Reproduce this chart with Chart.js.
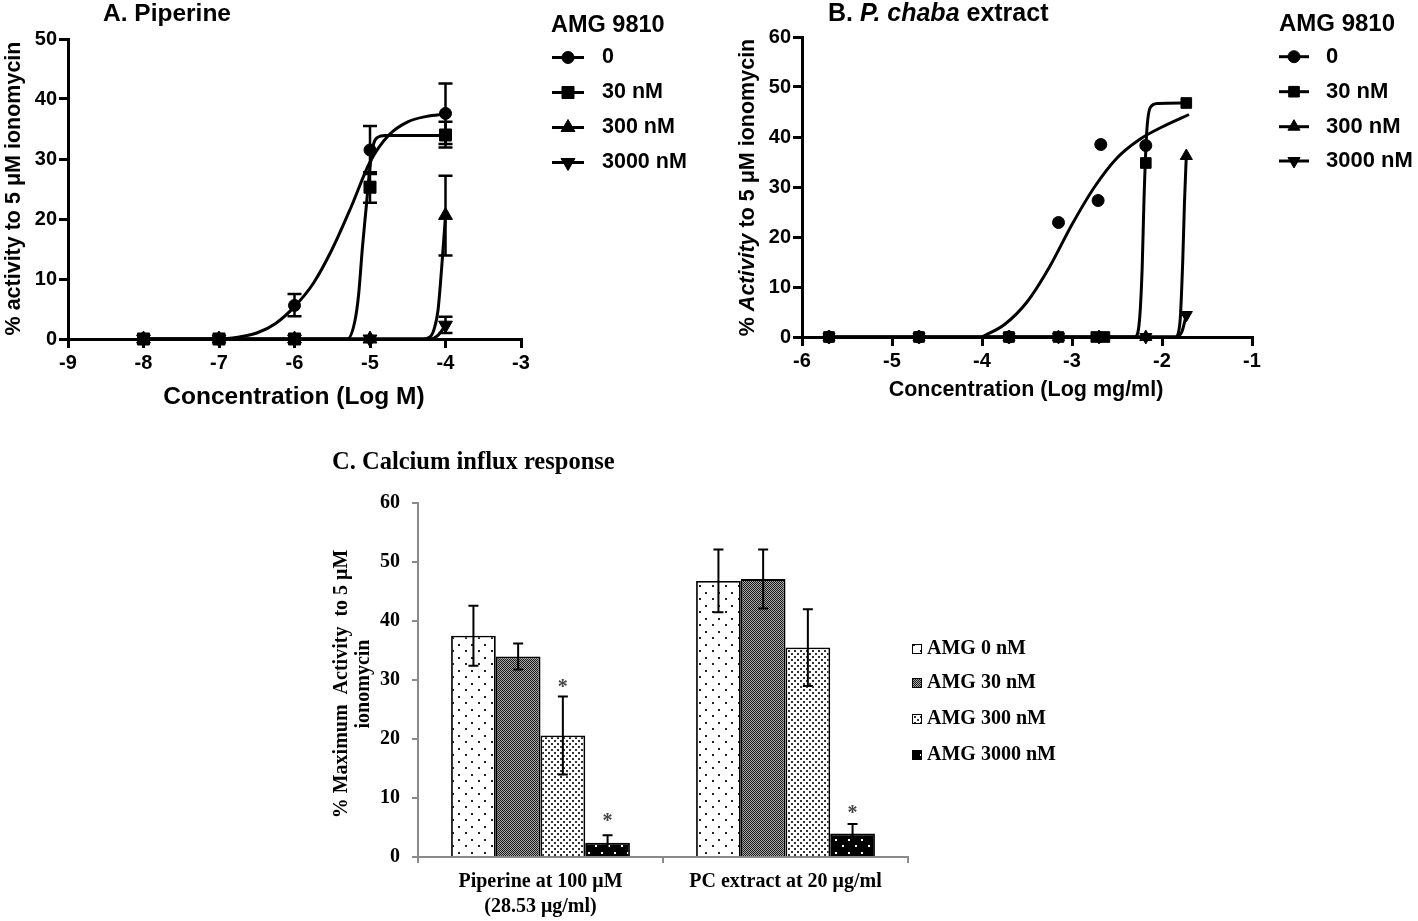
<!DOCTYPE html>
<html>
<head>
<meta charset="utf-8">
<script src="https://cdn.jsdelivr.net/npm/chart.js@4/dist/chart.umd.min.js"></script>
<style>
  body { margin: 0; background: #fff; }
  #wrap { position: relative; width: 1418px; height: 921px; overflow: hidden; }
  canvas { position: absolute; }
</style>
</head>
<body>
<div id="wrap">
  <canvas id="chartA" width="700" height="420" style="left:0px;top:0px"></canvas>
  <canvas id="chartB" width="698" height="420" style="left:720px;top:0px"></canvas>
  <canvas id="chartC" width="760" height="481" style="left:320px;top:440px"></canvas>
</div>
<script>
// ---------- panel A : piperine, concentration in log M ----------
var doseA = [-8, -7, -6, -5, -4]
var a0 = [0, 0, 5.6, 31.5, 37.6]
var a0Lo = [0, 0, 3.8, 27.5, 32.5]
var a0Hi = [0, 0, 7.5, 35.5, 42.6]
var a30 = [0, 0, 0, 25.3, 34.0]
var a30Lo = [0, 0, 0, 22.7, 31.9]
var a30Hi = [0, 0, 0, 27.8, 36.2]
var a300 = [0, 0, 0, 0, 20.6]
var a300Lo = [0, 0, 0, 0, 13.9]
var a300Hi = [0, 0, 0, 0, 27.2]
var a3000 = [0, 0, 0, 0, 2.3]
var a3000Lo = [0, 0, 0, 0, 1.0]
var a3000Hi = [0, 0, 0, 0, 3.7]

// fitted curves of panel A
var fitA0x = [-8, -7, -6.75, -6.5, -6.25, -6, -5.75, -5.5, -5.25, -5, -4.75, -4.5, -4.25, -4]
var fitA0y = [0, 0, 0.3, 1.0, 2.6, 5.4, 9.3, 15.0, 22.0, 29.5, 34.0, 36.2, 37.1, 37.5]
var fitA30x = [-8, -5.3, -5.2, -5.15, -5.1, -5.05, -5.0, -4.95, -4.9, -4.8, -4]
var fitA30y = [0, 0, 3, 7.5, 15.3, 22, 28.7, 32.6, 33.6, 33.9, 33.9]
var fitA300x = [-8, -4.3, -4.2, -4.15, -4.1, -4.05, -4.0]
var fitA300y = [0, 0, 0.4, 1.7, 4.7, 12, 20.6]
var fitA3000x = [-8, -4.2, -4.1, -4.0]
var fitA3000y = [0, 0, 0.6, 2.3]

// ---------- panel B : P. chaba extract, log mg/ml ----------
var b0x = [-5.7, -4.7, -3.7, -3.15, -2.71, -2.68, -2.18]
var b0 = [0, 0, 0, 22.9, 27.3, 38.5, 38.3]
var b30x = [-5.7, -4.7, -3.7, -3.15, -2.73, -2.64, -2.18, -1.73]
var b30 = [0, 0, 0, 0, 0, 0, 34.8, 46.8]
var b300x = [-5.7, -4.7, -3.7, -3.15, -2.7, -2.18, -1.73]
var b300 = [0, 0, 0, 0, 0, 0, 36.2]
var b3000x = [-5.7, -4.7, -3.7, -3.15, -2.7, -2.18, -1.73]
var b3000 = [0, 0, 0, 0, 0, 0, 4.4]

var fitB0x = [-4.0, -3.75, -3.5, -3.25, -3.0, -2.75, -2.5, -2.25, -2.0, -1.7]
var fitB0y = [0, 2.5, 7, 14, 22.5, 30, 35.8, 39.5, 42.0, 44.5]
var fitB30x = [-5.7, -2.3, -2.25, -2.22, -2.2, -2.17, -2.13, -2.05, -1.73]
var fitB30y = [0, 0, 3.4, 14, 27.5, 40.9, 45.9, 46.7, 46.8]
var fitB300x = [-5.7, -1.85, -1.8, -1.77, -1.75, -1.73]
var fitB300y = [0, 0, 3, 15, 27, 36.2]
var fitB3000x = [-5.7, -1.85, -1.78, -1.73]
var fitB3000y = [0, 0, 1, 4.4]

var doseLegend = ['0', '30 nM', '300 nM', '3000 nM']

// ---------- panel C : calcium influx bars ----------
var groupsC = [['Piperine at 100 \u03bcM', '(28.53 \u03bcg/ml)'], 'PC extract at 20 \u03bcg/ml']
var seriesC = ['AMG 0 nM', 'AMG 30 nM', 'AMG 300 nM', 'AMG 3000 nM']
var c0 = [37.5, 46.8]
var c0Err = [5.1, 5.3]
var c30 = [34.0, 47.1]
var c30Err = [2.2, 5.0]
var c300 = [20.6, 35.5]
var c300Err = [6.6, 6.5]
var c3000 = [2.4, 4.0]
var c3000Err = [1.3, 1.6]
var c300Star = [29.3, null]
var c3000Star = [6.6, 8.0]

var sans = '"Liberation Sans", Arial, sans-serif'
var serif = '"Liberation Serif", "Times New Roman", serif'

function pts(xs, ys) {
  return xs.map((x, i) => ({x: x, y: ys[i]}))
}

function makePattern(size, bg, fg, dots, dot) {
  let c = document.createElement('canvas')
  c.width = size
  c.height = size
  let g = c.getContext('2d')
  g.fillStyle = bg
  g.fillRect(0, 0, size, size)
  g.fillStyle = fg
  dots.forEach(d => g.fillRect(d[0], d[1], dot, dot))
  return g.createPattern(c, 'repeat')
}
var pat0 = makePattern(13, '#fff', '#222', [[2, 2], [8, 9]], 2)
var pat30 = makePattern(2, '#a8a8a8', '#1a1a1a', [[0, 0], [1, 1]], 1)
var pat300 = makePattern(6, '#fff', '#333', [[0, 0], [3, 3]], 2)
var pat3000 = makePattern(13, '#000', '#fff', [[2, 2], [8, 9]], 2)
var patsC = [pat0, pat30, pat300, pat3000]

function drawMarker(ctx, style, r, rot, x, y) {
  if (Chart.helpers && Chart.helpers.drawPoint) {
    Chart.helpers.drawPoint(ctx, {pointStyle: style, radius: r, rotation: rot, borderWidth: 1}, x, y)
  }
}

function drawRuns(ctx, t) {
  ctx.save()
  ctx.fillStyle = t.color || '#000'
  ctx.textBaseline = 'middle'
  ctx.textAlign = 'left'
  let w = 0
  t.runs.forEach(r => { ctx.font = r[1]; w += ctx.measureText(r[0]).width })
  ctx.translate(t.x, t.y)
  if (t.rot) ctx.rotate(t.rot)
  let x = t.align == 'center' ? -w / 2 : 0
  t.runs.forEach(r => {
    ctx.font = r[1]
    ctx.fillText(r[0], x, 0)
    x += ctx.measureText(r[0]).width
  })
  ctx.restore()
}

// titles, axis titles and legends drawn on top of each chart
const decor = {
  id: 'decor',
  afterDraw(chart, args, opts) {
    const ctx = chart.ctx;
    (opts.texts || []).forEach(t => drawRuns(ctx, t));
    (opts.lineLegend || []).forEach(it => {
      ctx.save()
      ctx.strokeStyle = '#000'
      ctx.fillStyle = '#000'
      ctx.lineWidth = 3
      ctx.beginPath()
      ctx.moveTo(it.x0, it.y)
      ctx.lineTo(it.x1, it.y)
      ctx.stroke()
      ctx.lineWidth = 1
      drawMarker(ctx, it.style, it.r, it.rot, (it.x0 + it.x1) / 2, it.y)
      ctx.restore()
      drawRuns(ctx, {x: it.tx, y: it.y, runs: [[it.text, it.font]]})
    });
    (opts.boxLegend || []).forEach(it => {
      ctx.save()
      ctx.fillStyle = it.fill
      ctx.fillRect(it.x, it.y - it.size / 2, it.size, it.size)
      ctx.strokeStyle = '#000'
      ctx.lineWidth = 1
      ctx.strokeRect(it.x + 0.5, it.y - it.size / 2 + 0.5, it.size - 1, it.size - 1)
      ctx.restore()
      drawRuns(ctx, {x: it.tx, y: it.y, runs: [[it.text, it.font]]})
    })
  }
}

// vertical error bars (and significance stars) from dataset values
const errorBars = {
  id: 'errorBars',
  afterDatasetsDraw(chart, args, opts) {
    const ctx = chart.ctx
    const ys = chart.scales.y
    chart.data.datasets.forEach((ds, i) => {
      if (!ds.errLow) return
      let meta = chart.getDatasetMeta(i)
      ctx.save()
      ctx.strokeStyle = '#000'
      ctx.lineWidth = opts.width
      meta.data.forEach((el, j) => {
        let lo = ds.errLow[j], hi = ds.errHigh[j]
        if (lo == null || hi - lo <= 0) return
        let x = el.x, y1 = ys.getPixelForValue(lo), y2 = ys.getPixelForValue(hi)
        ctx.beginPath()
        ctx.moveTo(x, y1)
        ctx.lineTo(x, y2)
        ctx.moveTo(x - opts.cap / 2, y1)
        ctx.lineTo(x + opts.cap / 2, y1)
        ctx.moveTo(x - opts.cap / 2, y2)
        ctx.lineTo(x + opts.cap / 2, y2)
        ctx.stroke()
      })
      ctx.restore()
      if (ds.stars) {
        meta.data.forEach((el, j) => {
          if (ds.stars[j] == null) return
          drawRuns(ctx, {x: el.x, y: ys.getPixelForValue(ds.stars[j]) + 4, align: 'center', color: '#444',
            runs: [['*', 'bold 20px ' + serif]]})
        })
      }
    })
  }
}

function curve(xs, ys) {
  return {data: pts(xs, ys), showLine: true, borderColor: '#000', borderWidth: 3, pointRadius: 0,
    cubicInterpolationMode: 'monotone', clip: false}
}
function marks(xs, ys, style, r, rot, lo, hi) {
  return {data: pts(xs, ys), showLine: false, pointStyle: style, pointRadius: r, pointRotation: rot,
    backgroundColor: '#000', borderColor: '#000', borderWidth: 1, clip: false, errLow: lo, errHigh: hi}
}

function doseScales(xmin, xmax, ymax, ystep, yw, xh) {
  let tickFont = {family: sans, size: 20, weight: 'bold'}
  return {
    x: {type: 'linear', min: xmin, max: xmax,
      ticks: {stepSize: 1, font: tickFont, color: '#000', padding: 3},
      grid: {drawOnChartArea: false, tickLength: 9, color: '#000', lineWidth: 3},
      border: {color: '#000', width: 3},
      afterFit: s => { s.height = xh }},
    y: {type: 'linear', min: 0, max: ymax,
      ticks: {stepSize: ystep, font: tickFont, color: '#000', padding: 2},
      grid: {drawOnChartArea: false, tickLength: 9, color: '#000', lineWidth: 3},
      border: {color: '#000', width: 3},
      afterFit: s => { s.width = yw }}
  }
}

function lineLegend(x0, x1, tx, rows, font, r) {
  let styles = [['circle', r[0], 0], ['rect', r[1], 0], ['triangle', r[2], 0], ['triangle', r[2], 180]]
  return doseLegend.map((t, i) => ({x0: x0, x1: x1, tx: tx, y: rows[i], style: styles[i][0],
    r: styles[i][1], rot: styles[i][2], text: t, font: font}))
}

var b = 'bold '
var bi = 'italic bold '

var chartA = new Chart(document.getElementById('chartA'), {
  type: 'scatter',
  data: {datasets: [
    curve(fitA0x, fitA0y), curve(fitA30x, fitA30y), curve(fitA300x, fitA300y), curve(fitA3000x, fitA3000y),
    marks(doseA, a0, 'circle', 6, 0, a0Lo, a0Hi),
    marks(doseA, a30, 'rect', 8.5, 0, a30Lo, a30Hi),
    marks(doseA, a300, 'triangle', 8, 0, a300Lo, a300Hi),
    marks(doseA, a3000, 'triangle', 8, 180, a3000Lo, a3000Hi)
  ]},
  options: {
    responsive: false, animation: false, events: [],
    layout: {padding: {left: 0, right: 179, top: 39, bottom: 0}},
    scales: doseScales(-9, -3, 50, 10, 68, 81),
    plugins: {
      legend: {display: false}, tooltip: {enabled: false},
      errorBars: {width: 2.5, cap: 14},
      decor: {
        texts: [
          {x: 103, y: 14, runs: [['A. Piperine', b + '24.5px ' + sans]]},
          {x: 294, y: 397, align: 'center', runs: [['Concentration (Log M)', b + '24.5px ' + sans]]},
          {x: 14, y: 188.5, align: 'center', rot: -Math.PI / 2, runs: [['% activity to 5 \u03bcM ionomycin', b + '21.5px ' + sans]]},
          {x: 551, y: 26, runs: [['AMG 9810', b + '23.5px ' + sans]]}
        ],
        lineLegend: lineLegend(552, 584, 602, [57.5, 92.5, 127.5, 162.5], b + '21.5px ' + sans, [6, 8.5, 8])
      }
    }
  },
  plugins: [errorBars, decor]
})

var chartB = new Chart(document.getElementById('chartB'), {
  type: 'scatter',
  data: {datasets: [
    curve(fitB0x, fitB0y), curve(fitB30x, fitB30y), curve(fitB300x, fitB300y), curve(fitB3000x, fitB3000y),
    marks(b0x, b0, 'circle', 6, 0),
    marks(b30x, b30, 'rect', 7.5, 0),
    marks(b300x, b300, 'triangle', 7, 0),
    marks(b3000x, b3000, 'triangle', 7, 180)
  ]},
  options: {
    responsive: false, animation: false, events: [],
    layout: {padding: {left: 0, right: 166, top: 37, bottom: 0}},
    scales: doseScales(-6, -1, 60, 10, 82, 83),
    plugins: {
      legend: {display: false}, tooltip: {enabled: false},
      errorBars: {width: 2.5, cap: 14},
      decor: {
        texts: [
          {x: 108, y: 14, runs: [['B. ', b + '25px ' + sans], ['P. chaba', bi + '25px ' + sans], [' extract', b + '25px ' + sans]]},
          {x: 306, y: 390, align: 'center', runs: [['Concentration (Log mg/ml)', b + '21.5px ' + sans]]},
          {x: 28, y: 187.5, align: 'center', rot: -Math.PI / 2,
            runs: [['% ', b + '21.5px ' + sans], ['Activity', bi + '21.5px ' + sans], [' to 5 \u03bcM ionomycin', b + '21.5px ' + sans]]},
          {x: 559, y: 24, runs: [['AMG 9810', b + '24px ' + sans]]}
        ],
        lineLegend: lineLegend(559, 589, 606, [56.7, 91.7, 126.7, 161], b + '22px ' + sans, [6, 7.5, 7])
      }
    }
  },
  plugins: [errorBars, decor]
})

function barSet(i, vals, errs, stars) {
  return {label: seriesC[i], data: vals, backgroundColor: patsC[i], borderColor: '#000', borderWidth: 1.8,
    errLow: vals.map((v, j) => v - errs[j]), errHigh: vals.map((v, j) => v + errs[j]), stars: stars}
}

var axisGrey = '#8a8a8a'
var serifTick = {family: serif, size: 20, weight: 'bold', lineHeight: 1.25}

var chartC = new Chart(document.getElementById('chartC'), {
  type: 'bar',
  data: {labels: groupsC, datasets: [
    barSet(0, c0, c0Err), barSet(1, c30, c30Err), barSet(2, c300, c300Err, c300Star), barSet(3, c3000, c3000Err, c3000Star)
  ]},
  options: {
    responsive: false, animation: false, events: [],
    layout: {padding: {left: 0, right: 172, top: 63, bottom: 0}},
    datasets: {bar: {categoryPercentage: 0.73, barPercentage: 1}},
    scales: {
      x: {ticks: {font: serifTick, color: '#000', padding: 6},
        grid: {offset: true, drawOnChartArea: false, tickLength: 6, color: axisGrey, lineWidth: 2},
        border: {color: axisGrey, width: 2},
        afterFit: s => { s.height = 64 }},
      y: {min: 0, max: 60, ticks: {stepSize: 10, font: serifTick, color: '#000', padding: 12},
        grid: {drawOnChartArea: false, tickLength: 6, color: axisGrey, lineWidth: 2},
        border: {color: axisGrey, width: 2},
        afterFit: s => { s.width = 98 }}
    },
    plugins: {
      legend: {display: false}, tooltip: {enabled: false},
      errorBars: {width: 2, cap: 10},
      decor: {
        texts: [
          {x: 12, y: 23, runs: [['C. Calcium influx response', b + '24.5px ' + serif]]},
          {x: 22, y: 244, align: 'center', rot: -Math.PI / 2, runs: [['% Maximum  Activity  to 5 \u03bcM', b + '20px ' + serif]]},
          {x: 44, y: 244, align: 'center', rot: -Math.PI / 2, runs: [['ionomycin', b + '20px ' + serif]]}
        ],
        boxLegend: seriesC.map((s, i) => ({x: 592, y: [209, 243, 279, 315][i], size: 10, fill: patsC[i],
          tx: 607, text: s, font: b + '20px ' + serif}))
      }
    }
  },
  plugins: [errorBars, decor]
})
</script>
</body>
</html>
